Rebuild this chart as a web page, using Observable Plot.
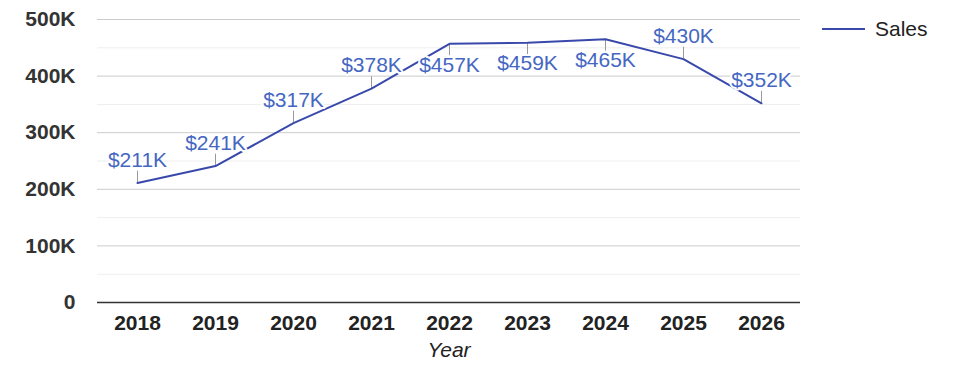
<!DOCTYPE html>
<html>
<head>
<meta charset="utf-8">
<script src="https://cdn.jsdelivr.net/npm/d3@7"></script>
<script src="https://cdn.jsdelivr.net/npm/@observablehq/plot@0.6"></script>
<style>
  html, body { margin: 0; padding: 0; background: #fff; }
  #wrap { position: relative; width: 975px; height: 378px; font-family: "Liberation Sans", Arial, sans-serif; }
  #legend { position: absolute; left: 822px; top: 17px; display: flex; align-items: center; font-size: 21px; color: #222; }
  #legend .sw { width: 43px; height: 0; border-top: 2px solid #3949ab; margin-right: 10px; }
</style>
</head>
<body>
<div id="wrap">
  <div id="chart"></div>
  <div id="legend"><span class="sw"></span><span>Sales</span></div>
</div>
<script>
const years = ["2018", "2019", "2020", "2021", "2022", "2023", "2024", "2025", "2026"];
const sales = [211000, 241000, 317000, 378000, 457000, 459000, 465000, 430000, 352000];
const seriesName = "Sales";
const xTitle = "Year";
const yMajorTicks = [0, 100000, 200000, 300000, 400000, 500000];
const yMinorTicks = [50000, 150000, 250000, 350000, 450000];
const labelsBelow = ["2022", "2023", "2024"];

const data = years.map((y, i) => ({year: y, value: sales[i], label: `$${Math.round(sales[i] / 1000)}K`}));
const above = data.filter(d => !labelsBelow.includes(d.year));
const below = data.filter(d => labelsBelow.includes(d.year));
const fmtY = v => v === 0 ? "0" : `${v / 1000}K`;
const lineColor = "#3949ab";
const labelColor = "#4567c2";
const tickLen = 21000;

const chart = Plot.plot({
  width: 975,
  height: 378,
  marginLeft: 97,
  marginRight: 175,
  marginTop: 19,
  marginBottom: 76,
  style: {fontFamily: "'Liberation Sans', Arial, sans-serif", background: "#fff"},
  x: {type: "point", domain: years, padding: 0.5, label: null},
  y: {domain: [0, 500000], label: null},
  marks: [
    Plot.ruleY(yMinorTicks, {stroke: "#eeeeee", strokeWidth: 1}),
    Plot.ruleY(yMajorTicks.filter(v => v > 0), {stroke: "#cccccc", strokeWidth: 1}),
    Plot.ruleY([0], {stroke: "#333", strokeWidth: 1.5}),
    Plot.axisY({ticks: yMajorTicks, tickFormat: fmtY, tickSize: 0, tickPadding: 22, fontSize: 21, fontWeight: "bold", fill: "#333", label: null}),
    Plot.axisX({tickSize: 0, tickPadding: 13, fontSize: 21, fontWeight: "bold", fill: "#222", label: null}),
    Plot.text([xTitle], {frameAnchor: "bottom", dy: 54, fontSize: 21, fontStyle: "italic", fill: "#222"}),
    Plot.ruleX(above, {x: "year", y1: "value", y2: d => d.value + tickLen, stroke: "#999", strokeWidth: 1}),
    Plot.ruleX(below, {x: "year", y1: "value", y2: d => d.value - tickLen, stroke: "#999", strokeWidth: 1}),
    Plot.line(data, {x: "year", y: "value", stroke: lineColor, strokeWidth: 2}),
    Plot.text(above, {x: "year", y: "value", text: "label", dy: -23, fontSize: 21, fill: labelColor, stroke: "#fff", strokeWidth: 4}),
    Plot.text(below, {x: "year", y: "value", text: "label", dy: 21, fontSize: 21, fill: labelColor, stroke: "#fff", strokeWidth: 4})
  ]
});
document.getElementById("chart").appendChild(chart);
</script>
</body>
</html>
